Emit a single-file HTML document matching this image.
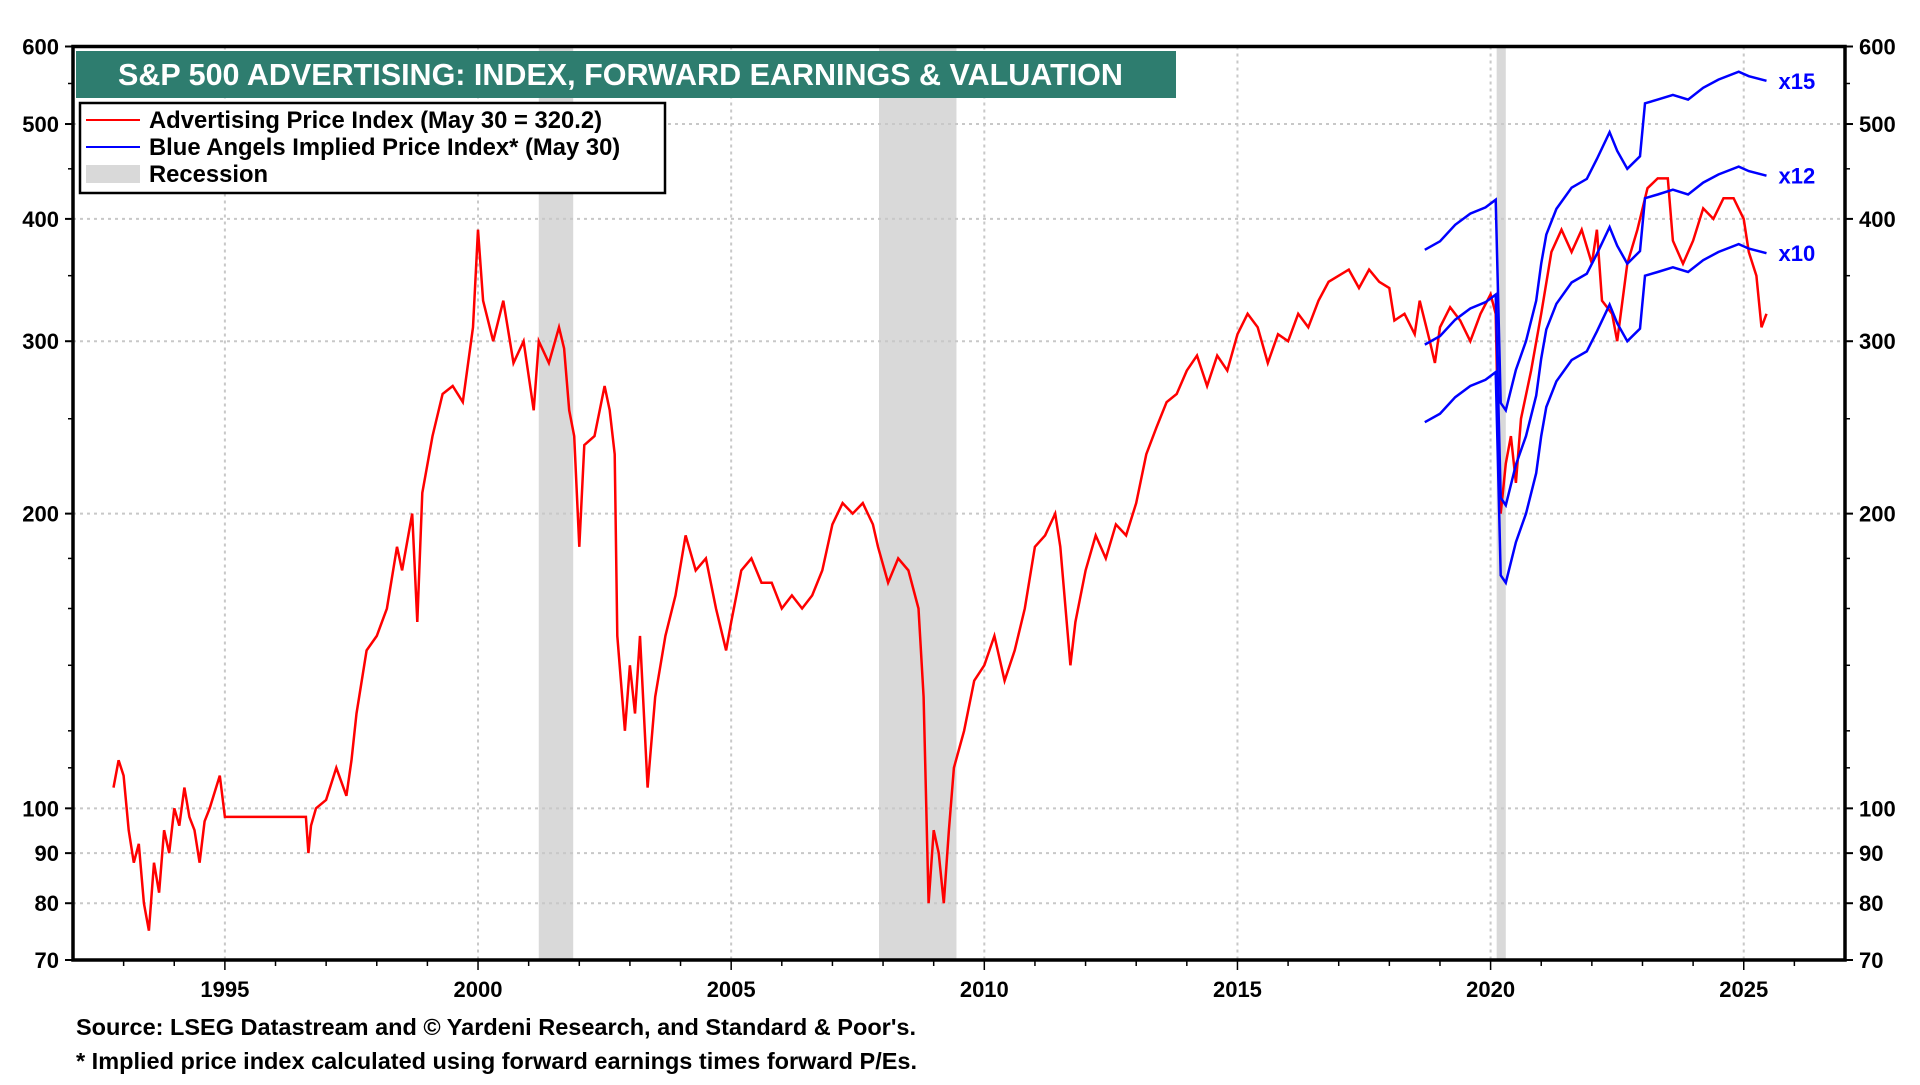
<!DOCTYPE html>
<html><head><meta charset="utf-8"><style>
html,body{margin:0;padding:0;background:#fff;}
svg text{font-family:"Liberation Sans",Arial,sans-serif;font-weight:bold;}
</style></head><body>
<svg id="chart" width="1920" height="1080" viewBox="0 0 1920 1080" xmlns="http://www.w3.org/2000/svg">
<rect width="1920" height="1080" fill="#fff"/>
<g id="rec"></g>
<g id="grid"></g>
<g id="series"></g>
<rect x="73" y="46.5" width="1772" height="913.5" fill="none" stroke="#000" stroke-width="3.5"/>
<g id="axes"></g>
<rect x="76" y="51" width="1100" height="47" fill="#2e7d6f"/>
<text x="118" y="85" fill="#fff" font-size="30.5">S&amp;P 500 ADVERTISING: INDEX, FORWARD EARNINGS &amp; VALUATION</text>
<g>
<rect x="80" y="103" width="585" height="90" fill="#fff" stroke="#000" stroke-width="2.5"/>
<line x1="86" y1="120" x2="140" y2="120" stroke="#f00" stroke-width="2"/>
<text x="149" y="128" font-size="23.8">Advertising Price Index (May 30 = 320.2)</text>
<line x1="86" y1="147" x2="140" y2="147" stroke="#00f" stroke-width="2"/>
<text x="149" y="155" font-size="23.8">Blue Angels Implied Price Index* (May 30)</text>
<rect x="86" y="165" width="54" height="18" fill="#d9d9d9"/>
<text x="149" y="182" font-size="23.8">Recession</text>
</g>
<text x="76" y="1035" font-size="23.5">Source: LSEG Datastream and © Yardeni Research, and Standard &amp; Poor's.</text>
<text x="76" y="1069" font-size="23.5">* Implied price index calculated using forward earnings times forward P/Es.</text>
</svg>
<script>
const redX=[1992.8,1992.9,1993.0,1993.1,1993.2,1993.3,1993.4,1993.5,1993.6,1993.7,1993.8,1993.9,1994.0,1994.1,1994.2,1994.3,1994.4,1994.5,1994.6,1994.7,1994.8,1994.9,1995.0,1996.6,1996.65,1996.7,1996.8,1997.0,1997.2,1997.4,1997.5,1997.6,1997.8,1998.0,1998.2,1998.4,1998.5,1998.7,1998.8,1998.9,1999.1,1999.3,1999.5,1999.7,1999.9,2000.0,2000.1,2000.3,2000.5,2000.7,2000.9,2001.1,2001.2,2001.4,2001.6,2001.7,2001.8,2001.9,2002.0,2002.1,2002.3,2002.5,2002.6,2002.7,2002.75,2002.9,2003.0,2003.1,2003.2,2003.35,2003.5,2003.7,2003.9,2004.1,2004.3,2004.5,2004.7,2004.9,2005.0,2005.2,2005.4,2005.6,2005.8,2006.0,2006.2,2006.4,2006.6,2006.8,2007.0,2007.2,2007.4,2007.6,2007.8,2007.9,2008.1,2008.3,2008.5,2008.7,2008.8,2008.9,2009.0,2009.1,2009.2,2009.3,2009.4,2009.6,2009.8,2010.0,2010.2,2010.4,2010.6,2010.8,2011.0,2011.2,2011.4,2011.5,2011.7,2011.8,2012.0,2012.2,2012.4,2012.6,2012.8,2013.0,2013.2,2013.4,2013.6,2013.8,2014.0,2014.2,2014.4,2014.6,2014.8,2015.0,2015.2,2015.4,2015.6,2015.8,2016.0,2016.2,2016.4,2016.6,2016.8,2017.0,2017.2,2017.4,2017.6,2017.8,2018.0,2018.1,2018.3,2018.5,2018.6,2018.8,2018.9,2019.0,2019.2,2019.4,2019.6,2019.8,2020.0,2020.1,2020.15,2020.2,2020.3,2020.4,2020.5,2020.6,2020.8,2021.0,2021.2,2021.4,2021.6,2021.8,2022.0,2022.1,2022.2,2022.4,2022.5,2022.7,2022.9,2023.1,2023.3,2023.5,2023.6,2023.8,2024.0,2024.2,2024.4,2024.6,2024.8,2025.0,2025.1,2025.25,2025.35,2025.45];
const redY=[105,112,108,95,88,92,80,75,88,82,95,90,100,96,105,98,95,88,97,100,104,108,98,98,90,96,100,102,110,103,112,125,145,150,160,185,175,200,155,210,240,265,270,260,310,390,330,300,330,285,300,255,300,285,310,295,255,240,185,235,240,270,255,230,150,120,140,125,150,105,130,150,165,190,175,180,160,145,155,175,180,170,170,160,165,160,165,175,195,205,200,205,195,185,170,180,175,160,130,80,95,90,80,95,110,120,135,140,150,135,145,160,185,190,200,185,140,155,175,190,180,195,190,205,230,245,260,265,280,290,270,290,280,305,320,310,285,305,300,320,310,330,345,350,355,340,355,345,340,315,320,305,330,300,285,310,325,315,300,320,335,320,240,200,225,240,215,250,280,320,370,390,370,390,360,390,330,320,300,360,390,430,440,440,380,360,380,410,400,420,420,400,370,350,310,320];
const blueX=[2018.7,2019.0,2019.3,2019.6,2019.9,2020.1,2020.15,2020.2,2020.3,2020.5,2020.7,2020.9,2021.0,2021.1,2021.3,2021.6,2021.9,2022.1,2022.35,2022.5,2022.7,2022.95,2023.05,2023.3,2023.6,2023.9,2024.2,2024.5,2024.9,2025.1,2025.45];
const fwdEarn=[24.8,25.3,26.3,27.0,27.4,27.9,22.0,17.3,17.0,18.7,20.0,22.0,24.0,25.7,27.3,28.7,29.3,30.7,32.7,31.3,30.0,30.9,35.0,35.3,35.7,35.3,36.3,37.0,37.7,37.3,36.9];
const multiples=[15,12,10];
const multLabels=["x15","x12","x10"];
const recStart=[2001.2,2007.92,2020.12];
const recEnd=[2001.88,2009.45,2020.3];
const yTicks=[600,500,400,300,200,100,90,80,70];
const yMinor=[550,450,350,250,180,160,140,120,110];
const xTicks=[1995,2000,2005,2010,2015,2020,2025];

const NS="http://www.w3.org/2000/svg";
const L=73,R=1845,T=46.5,B=960,X0=1992.0,X1=2027.0,YMAX=600,YMIN=70;
function xs(v){return L+(v-X0)/(X1-X0)*(R-L);}
function ys(v){return T+Math.log(YMAX/v)/Math.log(YMAX/YMIN)*(B-T);}
function mk(tag,attrs,parent){const e=document.createElementNS(NS,tag);for(const k in attrs)e.setAttribute(k,attrs[k]);parent.appendChild(e);return e;}
const rec=document.getElementById('rec'),grid=document.getElementById('grid'),ser=document.getElementById('series'),axes=document.getElementById('axes');
recStart.forEach((s,i)=>{const r=mk('rect',{x:xs(s),y:T,width:xs(recEnd[i])-xs(s),height:B-T,fill:'#d9d9d9'},rec);

});
yTicks.forEach(v=>{
 if(v!==600&&v!==70){const g=mk('line',{x1:L,x2:R,y1:ys(v),y2:ys(v),stroke:'#c8c8c8','stroke-width':2,'stroke-dasharray':'3,4'},grid);
 
 }
 [[L,'end',L-14],[R,'start',R+14]].forEach(([ax,anc,tx])=>{
  mk('line',{x1:ax,x2:ax+(ax===L?-8:8),y1:ys(v),y2:ys(v),stroke:'#000','stroke-width':2},axes);
  const t=mk('text',{x:tx,y:ys(v)+8,'text-anchor':anc,'font-size':22},axes);t.textContent=v;
  
  });
});
yMinor.forEach(v=>{[L,R].forEach(ax=>mk('line',{x1:ax,x2:ax+(ax===L?-5:5),y1:ys(v),y2:ys(v),stroke:'#000','stroke-width':1.5},axes));});
xTicks.forEach(v=>{
 const g=mk('line',{x1:xs(v),x2:xs(v),y1:T,y2:B,stroke:'#c8c8c8','stroke-width':2,'stroke-dasharray':'3,4'},grid);
 
 
 const t=mk('text',{x:xs(v),y:B+37,'text-anchor':'middle','font-size':22},axes);t.textContent=v;
 
 
});
for(let y=1993;y<=2026;y++){mk('line',{x1:xs(y),x2:xs(y),y1:B,y2:B+(y%5===0?10:6),stroke:'#000','stroke-width':1.5},axes);}
const rp=mk('polyline',{points:redX.map((x,i)=>xs(x).toFixed(1)+','+ys(redY[i]).toFixed(1)).join(' '),fill:'none',stroke:'#f00','stroke-width':2.5},ser);


multiples.forEach((m,j)=>{
 const p=mk('polyline',{points:blueX.map((x,i)=>xs(x).toFixed(1)+','+ys(fwdEarn[i]*m).toFixed(1)).join(' '),fill:'none',stroke:'#00f','stroke-width':2.5},ser);
 
 
 const n=blueX.length-1;
 const t=mk('text',{x:xs(blueX[n])+12,y:ys(fwdEarn[n]*m)+8,fill:'#00f','font-size':22},ser);t.textContent=multLabels[j];
 
 
});
</script>
</body></html>
